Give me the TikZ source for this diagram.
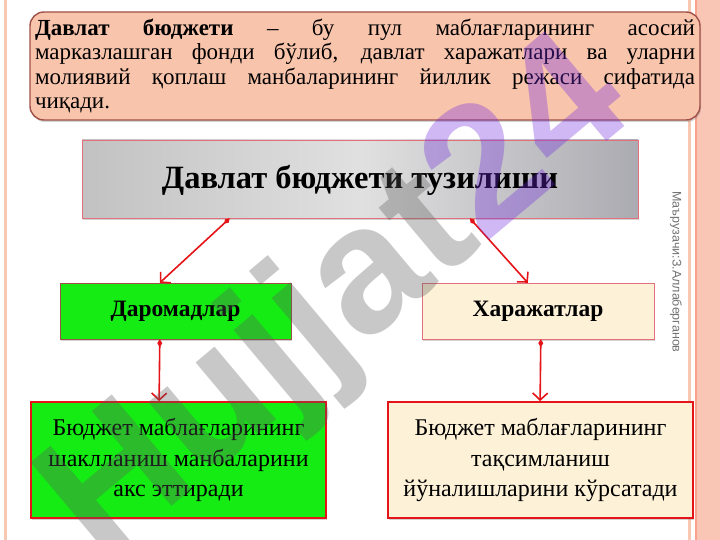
\documentclass[tikz,border=0pt]{standalone}
\usepackage{fontspec}
\setmainfont{Liberation Serif}
\newfontfamily\sansfont{Liberation Sans}
\usetikzlibrary{arrows.meta,shadows}
\definecolor{peach}{RGB}{249,196,172}
\definecolor{peachline}{RGB}{160,80,72}
\definecolor{slidegreen}{RGB}{20,236,20}
\definecolor{cream}{RGB}{253,241,216}
\definecolor{linkred}{RGB}{228,20,24}
\definecolor{pinkline}{RGB}{228,112,124}
\definecolor{stripe}{RGB}{248,200,178}
\definecolor{band}{RGB}{249,198,182}
\definecolor{wmgray}{RGB}{90,90,90}
\definecolor{wmpurple}{RGB}{112,40,224}

\begin{document}
\begin{tikzpicture}[x=1pt,y=-1pt,
    box/.style={draw, rectangle, inner sep=4pt, align=center,
      drop shadow={opacity=0.35, shadow xshift=1pt, shadow yshift=-2pt}},
    link/.style={draw=linkred, line width=1.6pt,
      {Diamond[width=5pt,length=8pt]}-{Straight Barb[length=7pt,width=15pt]}}]
  % The slide
  \fill[white] (0,0) rectangle (720,540);
  \useasboundingbox (0,0) rectangle (720,540);
  \fill[stripe] (4,0) rectangle (7,540);
  \fill[stripe] (688,0) rectangle (691,540);
  \fill[band] (695,0) rectangle (720,540);
  \fill[stripe!80!red] (695,0) rectangle (697,540);
  % The definition
  \node[box, rounded corners=14pt, fill=peach, draw=peachline, line width=1.4pt,
        minimum width=670pt, minimum height=108pt, text width=660pt, align=justify,
        inner sep=5pt, font=\fontsize{23}{24.5}\selectfont] (defn) at (365,66)
    {{\bfseries Давлат бюджети} – бу пул маблағларининг асосий\linebreak
     марказлашган фонди бўлиб, давлат харажатлари ва уларни\linebreak
     молиявий қоплаш манбаларининг йиллик режаси сифатида\linebreak
     чиқади.};
  % The boxes
  \node[box, draw=pinkline, left color=black!24, right color=blue!8!black!33,
        middle color=black!12, minimum width=556pt, minimum height=78pt,
        text depth=4pt, font=\bfseries\fontsize{32.5}{34}\selectfont] (title) at (360,179)
    {Давлат бюджети тузилиши};
  \node[box, fill=slidegreen, draw=peachline, minimum width=231pt, minimum height=56pt,
        font=\bfseries\fontsize{23.5}{26}\selectfont] (inc) at (175.5,311) {Даромадлар};
  \node[box, fill=cream, draw=pinkline, minimum width=232pt, minimum height=56pt,
        font=\bfseries\fontsize{23.5}{26}\selectfont] (exp) at (538,311) {Харажатлар};
  \node[box, fill=slidegreen, draw=linkred, line width=1.8pt, minimum width=295pt,
        minimum height=116pt, font=\fontsize{24}{30.5}\selectfont] (incnote) at (178.5,460)
    {Бюджет маблағларининг\\шаклланиш манбаларини\\акс эттиради};
  \node[box, fill=cream, draw=linkred, line width=1.8pt, minimum width=305pt,
        minimum height=116pt, font=\fontsize{24}{30.5}\selectfont] (expnote) at (540.5,460)
    {Бюджет маблағларининг\\тақсимланиш\\йўналишларини кўрсатади};
  % The arrows
  \draw[link] ([xshift=148pt]title.south west) -- ([xshift=100pt]inc.north west);
  \draw[link] ([xshift=388pt]title.south west) -- ([xshift=106pt]exp.north west);
  \draw[link] ([xshift=100pt]inc.south west) -- ([xshift=129pt]incnote.north west);
  \draw[link] ([xshift=119pt]exp.south west) -- ([xshift=153pt]expnote.north west);
  % The author
  \node[rotate=-90, text=black!55, font=\sansfont\fontsize{12.5}{12.5}\selectfont]
    (author) at (676,272) {Маърузачи:З.Аллаберганов};
  % The watermark
  \node[rotate=40, text opacity=0.33, font=\sansfont\bfseries\fontsize{180}{180}\selectfont]
    (mark) at (340,305)
    {\color{wmgray}Hujjat\color{wmpurple}24};
\end{tikzpicture}
\end{document}
